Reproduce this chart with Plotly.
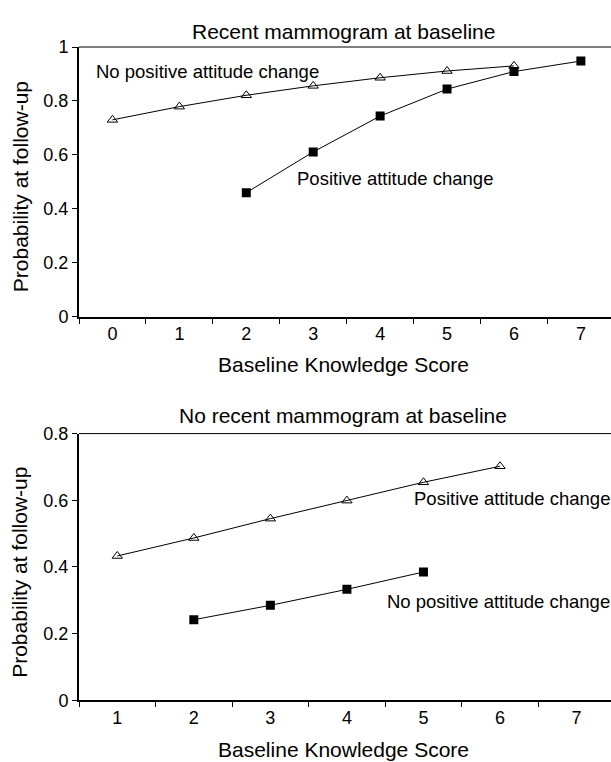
import plotly.graph_objects as go

# ---- data ----
top_categories = ["0", "1", "2", "3", "4", "5", "6", "7"]
top_nochange_x = ["0", "1", "2", "3", "4", "5", "6"]
top_nochange_y = [0.730, 0.779, 0.821, 0.856, 0.886, 0.911, 0.930]
top_pos_x = ["2", "3", "4", "5", "6", "7"]
top_pos_y = [0.460, 0.611, 0.744, 0.844, 0.909, 0.948]

bot_categories = ["1", "2", "3", "4", "5", "6", "7"]
bot_pos_x = ["1", "2", "3", "4", "5", "6"]
bot_pos_y = [0.433, 0.487, 0.545, 0.599, 0.654, 0.702]
bot_nochange_x = ["2", "3", "4", "5"]
bot_nochange_y = [0.242, 0.285, 0.333, 0.385]

top_yticks = [0, 0.2, 0.4, 0.6, 0.8, 1]
top_yticklabels = ["0", "0.2", "0.4", "0.6", "0.8", "1"]
bot_yticks = [0, 0.2, 0.4, 0.6, 0.8]
bot_yticklabels = ["0", "0.2", "0.4", "0.6", "0.8"]

W, H = 611, 762
FONT = "Liberation Sans, Arial, sans-serif"

def py(p):  # pixel y from top -> paper
    return 1 - p / H

def px(p):
    return p / W

fig = go.Figure()
line = dict(color="black", width=1)
tri = dict(symbol="triangle-up-open", size=9, color="black", line=dict(width=1, color="black"))
sq = dict(symbol="square", size=9, color="black")

fig.add_trace(go.Scatter(x=top_nochange_x, y=top_nochange_y, mode="lines+markers",
                         line=line, marker=tri, xaxis="x", yaxis="y", showlegend=False))
fig.add_trace(go.Scatter(x=top_pos_x, y=top_pos_y, mode="lines+markers",
                         line=line, marker=sq, xaxis="x", yaxis="y", showlegend=False))
fig.add_trace(go.Scatter(x=bot_pos_x, y=bot_pos_y, mode="lines+markers",
                         line=line, marker=tri, xaxis="x2", yaxis="y2", showlegend=False))
fig.add_trace(go.Scatter(x=bot_nochange_x, y=bot_nochange_y, mode="lines+markers",
                         line=line, marker=sq, xaxis="x2", yaxis="y2", showlegend=False))

tickfont = dict(family=FONT, size=18, color="black")
common_x = dict(type="category", tickson="boundaries", ticks="outside", ticklen=5,
                tickcolor="black", tickwidth=1, showline=True, linecolor="black",
                linewidth=2, showgrid=False, zeroline=False, tickfont=tickfont,
                domain=[px(79), 1.0], fixedrange=True)
common_y = dict(ticks="outside", ticklen=5, tickcolor="black", tickwidth=1,
                showline=True, linecolor="black", linewidth=2, showgrid=False,
                zeroline=False, tickfont=tickfont, fixedrange=True)

fig.update_layout(
    width=W, height=H,
    margin=dict(l=0, r=0, t=0, b=0),
    paper_bgcolor="white", plot_bgcolor="white",
    font=dict(family=FONT, color="black"),
    xaxis=dict(common_x, categoryorder="array", categoryarray=top_categories,
               range=[-0.5, 7.45], anchor="y"),
    yaxis=dict(common_y, range=[0, 1], tickvals=top_yticks, ticktext=top_yticklabels,
               domain=[py(315), py(38)], anchor="x"),
    xaxis2=dict(common_x, categoryorder="array", categoryarray=bot_categories,
                range=[-0.5, 6.45], anchor="y2"),
    yaxis2=dict(common_y, range=[0, 0.8], tickvals=bot_yticks, ticktext=bot_yticklabels,
                domain=[py(709), py(435)], anchor="x2"),
)

# top frame lines
fig.add_shape(type="line", xref="x domain", yref="y domain", x0=0, x1=1, y0=1, y1=1,
              line=dict(color="black", width=1))
fig.add_shape(type="line", xref="x2 domain", yref="y2 domain", x0=0, x1=1, y0=1, y1=1,
              line=dict(color="black", width=1))

tf = dict(family=FONT, size=21, color="black")
af = dict(family=FONT, size=18.5, color="black")
annos = [
    dict(text="Recent mammogram at baseline", x=px(343), y=py(22), font=tf),
    dict(text="No recent mammogram at baseline", x=px(343), y=py(416), font=tf),
    dict(text="Baseline Knowledge Score", x=px(343), y=py(364), font=tf),
    dict(text="Baseline Knowledge Score", x=px(343), y=py(759), font=tf),
    dict(text="Probability at follow-up", x=px(20), y=py(182), font=tf, textangle=-90),
    dict(text="Probability at follow-up", x=px(20), y=py(578), font=tf, textangle=-90),
    dict(text="No positive attitude change", x=px(207), y=py(63), font=af),
    dict(text="Positive attitude change", x=px(395), y=py(173), font=af),
    dict(text="Positive attitude change", x=1.0, y=py(502), font=af, xanchor="right"),
    dict(text="No positive attitude change", x=1.0, y=py(607), font=af, xanchor="right"),
]
for a in annos:
    a.setdefault("xanchor", "center")
    fig.add_annotation(xref="paper", yref="paper", showarrow=False, yanchor="middle",
                       borderpad=0, **a)

fig.write_html(
    "out.html",
    config={"displayModeBar": False, "staticPlot": True},
    post_script="document.body.style.margin='0';document.body.style.overflow='hidden';",
)
